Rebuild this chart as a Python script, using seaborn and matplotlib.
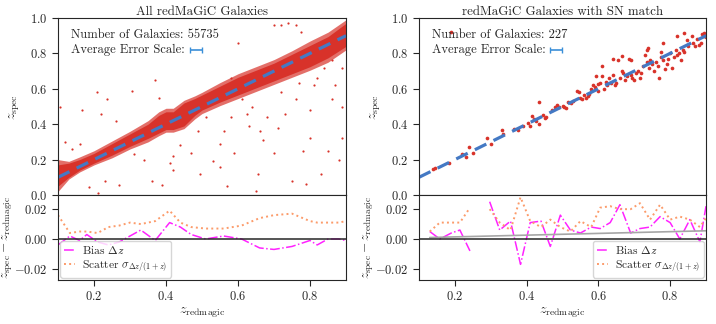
import numpy as np
import pandas as pd
import seaborn as sns
import matplotlib.pyplot as plt

# ---------- data ----------
n_all = 55735
n_sn = 227
err_scale = 0.017  # half width of the average error bar

# dense band of the full redMaGiC sample (core and speckled fringe)
band_x = [0.10, 0.13, 0.16, 0.20, 0.25, 0.30, 0.35, 0.38, 0.40, 0.42, 0.45,
          0.48, 0.50, 0.55, 0.60, 0.65, 0.70, 0.75, 0.80, 0.85, 0.90]
core_lo = [0.05, 0.10, 0.14, 0.18, 0.225, 0.275, 0.32, 0.35, 0.37, 0.37, 0.39,
           0.45, 0.48, 0.525, 0.565, 0.605, 0.645, 0.685, 0.725, 0.775, 0.84]
core_hi = [0.17, 0.18, 0.20, 0.235, 0.29, 0.345, 0.40, 0.45, 0.47, 0.47, 0.52,
           0.545, 0.565, 0.615, 0.665, 0.705, 0.745, 0.795, 0.845, 0.895, 0.97]
fringe_lo = [0.02, 0.09, 0.13, 0.17, 0.21, 0.26, 0.30, 0.335, 0.355, 0.355, 0.375,
             0.43, 0.46, 0.505, 0.545, 0.585, 0.625, 0.665, 0.705, 0.75, 0.82]
fringe_hi = [0.20, 0.19, 0.215, 0.25, 0.305, 0.36, 0.42, 0.47, 0.49, 0.49, 0.535,
             0.56, 0.58, 0.635, 0.685, 0.725, 0.765, 0.815, 0.87, 0.92, 0.99]

# outliers of the full sample
out_x = [0.105, 0.167, 0.208, 0.235, 0.305, 0.37, 0.22, 0.16, 0.185, 0.21,
         0.27, 0.23, 0.39, 0.36, 0.41, 0.42, 0.47, 0.495, 0.53, 0.55, 0.59,
         0.60, 0.65, 0.655, 0.67, 0.70, 0.71, 0.625, 0.63, 0.66, 0.70, 0.72,
         0.74, 0.76, 0.775, 0.78, 0.80, 0.80, 0.83, 0.85, 0.89, 0.89, 0.87,
         0.86, 0.81, 0.76, 0.73, 0.58, 0.56, 0.61, 0.51, 0.31, 0.34, 0.42,
         0.57, 0.75, 0.79, 0.72, 0.55, 0.49, 0.89, 0.86, 0.84, 0.82, 0.77,
         0.58, 0.52, 0.46, 0.38, 0.12, 0.14, 0.26, 0.44, 0.64, 0.68, 0.88]
out_y = [0.50, 0.48, 0.58, 0.54, 0.59, 0.65, 0.46, 0.29, 0.045, 0.01,
         0.055, 0.08, 0.055, 0.08, 0.18, 0.14, 0.24, 0.12, 0.19, 0.16, 0.24,
         0.86, 0.02, 0.12, 0.31, 0.24, 0.38, 0.46, 0.39, 0.36, 0.96, 0.96,
         0.97, 0.96, 0.92, 0.25, 0.48, 0.32, 0.12, 0.25, 0.50, 0.32, 0.62,
         0.54, 0.62, 0.54, 0.46, 0.44, 0.36, 0.54, 0.44, 0.23, 0.20, 0.22,
         0.05, 0.08, 0.06, 0.58, 0.29, 0.36, 0.72, 0.76, 0.72, 0.66, 0.63,
         0.66, 0.56, 0.52, 0.55, 0.30, 0.26, 0.42, 0.28, 0.50, 0.44, 0.20]

# SN-matched galaxies
sn_x = [0.14, 0.145, 0.185, 0.19, 0.22, 0.23, 0.238, 0.25, 0.29, 0.30,
        0.33, 0.335, 0.365, 0.375, 0.39, 0.405, 0.41, 0.415, 0.42, 0.425,
        0.435, 0.435, 0.445, 0.45, 0.455, 0.47, 0.48, 0.485, 0.49, 0.50,
        0.505, 0.51, 0.515, 0.525, 0.53, 0.54, 0.545, 0.55, 0.555, 0.56,
        0.565, 0.57, 0.575, 0.58, 0.585, 0.59, 0.594, 0.60, 0.60, 0.605,
        0.61, 0.61, 0.615, 0.62, 0.625, 0.63, 0.635, 0.64, 0.64, 0.645,
        0.65, 0.655, 0.66, 0.665, 0.667, 0.67, 0.675, 0.68, 0.685, 0.69,
        0.69, 0.695, 0.70, 0.705, 0.71, 0.715, 0.72, 0.725, 0.73, 0.735,
        0.736, 0.738, 0.74, 0.745, 0.75, 0.755, 0.76, 0.765, 0.77, 0.775,
        0.775, 0.78, 0.78, 0.785, 0.79, 0.795, 0.80, 0.805, 0.81, 0.815,
        0.82, 0.82, 0.825, 0.83, 0.835, 0.84, 0.84, 0.847, 0.85, 0.86,
        0.865, 0.87, 0.875, 0.88, 0.885, 0.89, 0.895, 0.895, 0.90]
sn_y = [0.145, 0.15, 0.18, 0.92, 0.23, 0.215, 0.27, 0.235, 0.32, 0.29,
        0.37, 0.345, 0.375, 0.365, 0.39, 0.405, 0.39, 0.445, 0.43, 0.42,
        0.525, 0.40, 0.45, 0.435, 0.44, 0.48, 0.50, 0.51, 0.50, 0.505,
        0.50, 0.49, 0.525, 0.52, 0.53, 0.59, 0.58, 0.55, 0.545, 0.565,
        0.55, 0.56, 0.57, 0.60, 0.62, 0.61, 0.67, 0.625, 0.585, 0.63,
        0.675, 0.73, 0.60, 0.64, 0.62, 0.66, 0.63, 0.68, 0.77, 0.62,
        0.63, 0.76, 0.66, 0.70, 0.785, 0.69, 0.65, 0.67, 0.77, 0.68,
        0.76, 0.66, 0.65, 0.69, 0.70, 0.66, 0.69, 0.73, 0.79, 0.75,
        0.82, 0.83, 0.72, 0.76, 0.74, 0.70, 0.75, 0.73, 0.66, 0.78,
        0.81, 0.76, 0.86, 0.71, 0.74, 0.77, 0.80, 0.72, 0.78, 0.82,
        0.79, 0.90, 0.80, 0.76, 0.82, 0.81, 0.915, 0.876, 0.84, 0.90,
        0.86, 0.84, 0.88, 0.85, 0.86, 0.91, 0.90, 0.915, 0.89]

# binned residuals, full sample
res_x = [0.10, 0.133, 0.16, 0.18, 0.21, 0.24, 0.27, 0.30, 0.33, 0.37, 0.41,
         0.44, 0.47, 0.51, 0.56, 0.61, 0.66, 0.70, 0.75, 0.80, 0.82, 0.85,
         0.88, 0.90]
res_bias = [-0.004, 0.002, -0.001, 0.003, -0.002, -0.004, -0.002, 0.002,
            0.006, -0.001, 0.011, 0.008, 0.003, 0.0, 0.002, 0.0, -0.006,
            -0.007, -0.005, -0.001, -0.004, 0.0, 0.0, -0.001]
res_scat = [0.016, 0.004, 0.005, 0.005, 0.004, 0.008, 0.009, 0.011, 0.010,
            0.012, 0.019, 0.011, 0.008, 0.007, 0.007, 0.009, 0.014, 0.016,
            0.017, 0.012, 0.011, 0.011, 0.011, 0.012]

# binned residuals, SN sample (nan = empty bin)
sn_res_x = [0.13, 0.158, 0.19, 0.214, 0.242, 0.27, 0.297, 0.325, 0.355,
            0.383, 0.41, 0.44, 0.466, 0.494, 0.522, 0.55, 0.58, 0.605, 0.633,
            0.66, 0.69, 0.716, 0.744, 0.772, 0.80, 0.827, 0.855, 0.883, 0.90]
sn_res_bias = [0.005, 0.0, 0.004, 0.006, -0.008, np.nan, 0.025, 0.006, 0.012,
               -0.017, 0.011, 0.012, -0.005, 0.016, 0.006, 0.004, 0.008,
               0.007, 0.011, 0.023, 0.004, 0.007, 0.008, 0.015, 0.011, 0.0,
               0.013, -0.002, 0.022]
sn_res_scat = [0.005, 0.011, 0.011, 0.011, 0.021, np.nan, 0.020, 0.011, 0.006,
               0.028, 0.012, 0.008, 0.013, 0.008, 0.005, 0.012, 0.008, 0.021,
               0.022, 0.020, 0.020, 0.024, 0.013, 0.023, 0.013, 0.015, 0.013,
               0.008, 0.014]
sn_trend_x = [0.13, 0.90]
sn_trend_y = [0.001, 0.0055]

# ---------- style ----------
sns.set_style("ticks")
plt.rcParams["font.family"] = ["cmr10", "DejaVu Serif"]
plt.rcParams["mathtext.fontset"] = "cm"
plt.rcParams["axes.formatter.use_mathtext"] = True
plt.rcParams["font.size"] = 9

red = "#d8322a"
blue = "#4479c4"
ebar_blue = "#3b8fd8"
magenta = "#ff22ff"
orange = "#fc9b6a"

fig = plt.figure(figsize=(7.16, 3.24), dpi=100)

W, H = 716, 324
def box(l, r, t, b):
    return [l / W, 1 - b / H, (r - l) / W, (b - t) / H]

panels = [
    dict(l=58, r=346, title="All redMaGiC Galaxies", n=n_all, loc="lower left"),
    dict(l=419, r=706, title="redMaGiC Galaxies with SN match", n=n_sn, loc="lower right"),
]

for i, p in enumerate(panels):
    ax = fig.add_axes(box(p["l"], p["r"], 18, 195))
    rax = fig.add_axes(box(p["l"], p["r"], 195, 280), sharex=ax)

    if i == 0:
        ax.fill_between(band_x, fringe_lo, fringe_hi, color=red, alpha=0.7, lw=0)
        ax.fill_between(band_x, core_lo, core_hi, color=red, lw=0)
        df = pd.DataFrame({"x": out_x, "y": out_y})
        sns.scatterplot(data=df, x="x", y="y", ax=ax, color=red, s=2.5,
                        linewidth=0, legend=False)
    else:
        df = pd.DataFrame({"x": sn_x, "y": sn_y})
        sns.scatterplot(data=df, x="x", y="y", ax=ax, color=red, s=7,
                        linewidth=0, legend=False)

    ax.plot([0.1, 0.9], [0.1, 0.9], ls=(0, (4, 2.5)), color=blue, lw=2.3)

    ax.set_xlim(0.1, 0.9)
    ax.set_ylim(0, 1.0)
    ax.set_yticks([0.0, 0.2, 0.4, 0.6, 0.8, 1.0])
    ax.set_xlabel("")
    ax.set_ylabel(r"$z_{\rm spec}$", fontsize=10)
    ax.yaxis.set_label_coords(-0.125, 0.5)
    ax.set_title(p["title"], fontsize=9.3, pad=2)
    ax.tick_params(labelbottom=False, length=4, labelsize=9)

    ax.text(0.045, 0.905, "Number of Galaxies: %d" % p["n"], transform=ax.transAxes,
            fontsize=9, color=".15", va="center")
    ax.text(0.045, 0.82, "Average Error Scale:", transform=ax.transAxes,
            fontsize=9, color=".15", va="center")
    ax.errorbar([0.478], [0.82], xerr=err_scale / 0.8, transform=ax.transAxes,
                color=ebar_blue, capsize=2, lw=1.2, capthick=1)

    if i == 0:
        rax.plot(res_x, res_bias, color=magenta, ls="-.", lw=1.1, label=r"Bias $\Delta z$")
        rax.plot(res_x, res_scat, color=orange, ls=":", lw=1.4,
                 label=r"Scatter $\sigma_{\Delta z/(1+z)}$")
    else:
        rax.plot(sn_res_x, sn_res_bias, color=magenta, ls="-.", lw=1.1, label=r"Bias $\Delta z$")
        rax.plot(sn_res_x, sn_res_scat, color=orange, ls=":", lw=1.4,
                 label=r"Scatter $\sigma_{\Delta z/(1+z)}$")
        rax.plot(sn_trend_x, sn_trend_y, color="0.65", lw=1.2)
    rax.axhline(0, color="0.15", lw=1.1)

    rax.set_ylim(-0.0275, 0.0295)
    rax.set_yticks([-0.02, 0.0, 0.02])
    rax.set_yticklabels([r"$-0.02$", r"$0.00$", r"$0.02$"])
    rax.set_xticks([0.2, 0.4, 0.6, 0.8])
    rax.set_xlim(0.1, 0.9)
    rax.tick_params(length=4, labelsize=9)
    rax.set_xlabel(r"$z_{\rm redmagic}$", fontsize=10, labelpad=2)
    rax.set_ylabel(r"$z_{\rm spec} - z_{\rm redmagic}$", fontsize=9.5)
    rax.yaxis.set_label_coords(-0.15, 0.5)
    rax.legend(loc=p["loc"], fontsize=8.3, handlelength=1.0, frameon=True,
               borderpad=0.3, labelspacing=0.25, borderaxespad=0.2,
               handletextpad=0.6)

fig.savefig("out.png", dpi=100)
